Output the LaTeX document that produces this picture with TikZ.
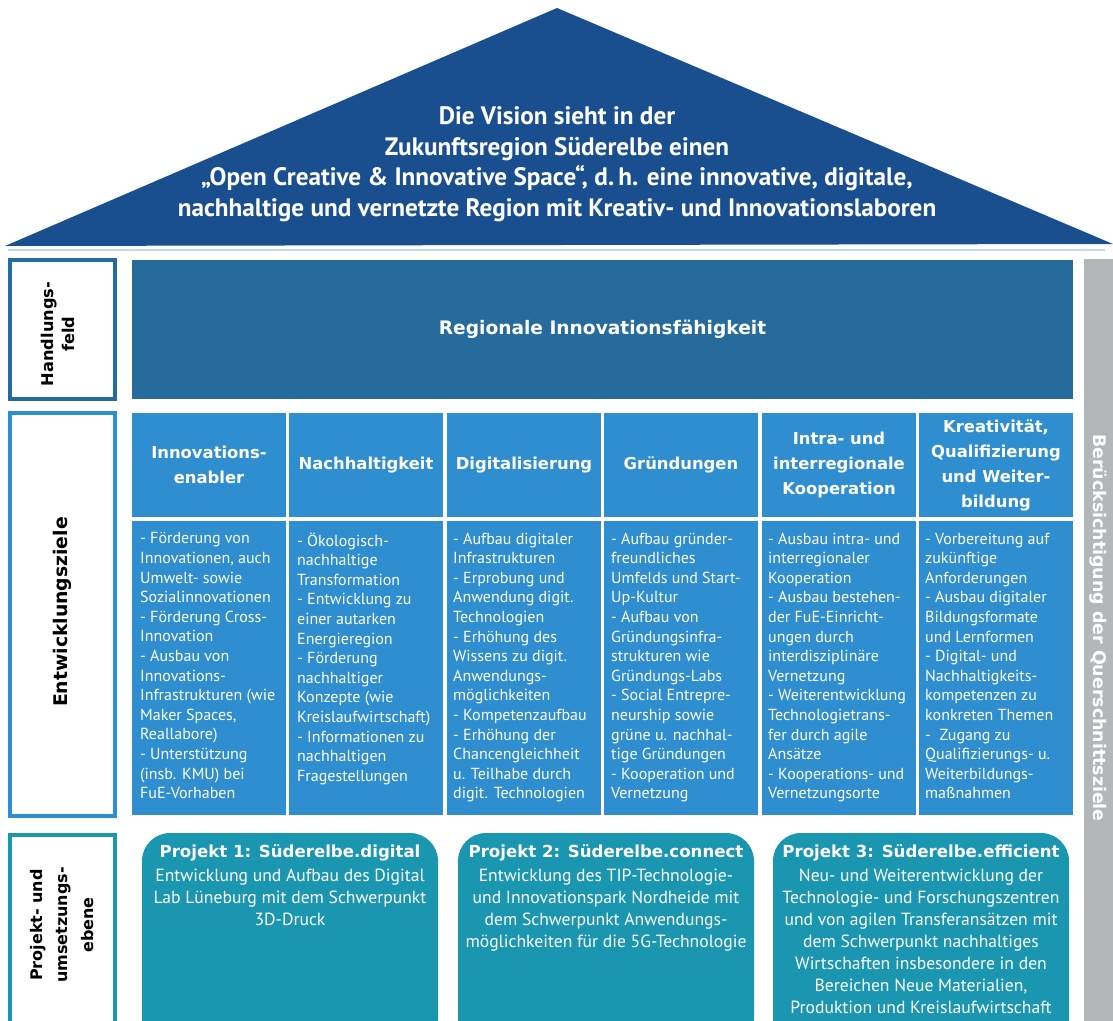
\documentclass[tikz,border=0pt]{standalone}
\usepackage{fontspec}
\setmainfont{PT Sans}
\newfontfamily\headface{DejaVu Sans}
\definecolor{roofblue}{RGB}{25,79,143}
\definecolor{fieldblue}{RGB}{37,108,157}
\definecolor{colblue}{RGB}{46,142,207}
\definecolor{teal}{RGB}{26,150,176}
\definecolor{barGray}{RGB}{180,183,185}
\definecolor{lineblue}{RGB}{190,220,240}
\tikzset{
  box/.style={anchor=north west, inner sep=0pt, outer sep=0pt},
  labelbox/.style={box, draw, line width=4pt, fill=white},
  labeltext/.style={rotate=90, align=center, font=\headface\bfseries\fontsize{16.2}{21}\selectfont, text=black},
  colhead/.style={box, fill=colblue, minimum width=154pt, minimum height=104pt, align=center,
    text=white, font=\headface\bfseries\fontsize{16.4}{25}\selectfont},
  colbody/.style={box, fill=colblue, minimum width=154pt, minimum height=294pt},
  bodytext/.style={anchor=north west, inner sep=0pt, align=left, text=white,
    font=\fontsize{16}{19.6}\selectfont},
  projbox/.style={box, fill=teal, rounded corners=28pt, minimum width=296pt, minimum height=215pt},
  projtitle/.style={inner sep=0pt, text=white, font=\headface\bfseries\fontsize{16.6}{22}\selectfont},
  projtext/.style={anchor=north, inner sep=0pt, align=center, text=white,
    font=\fontsize{17.6}{22}\selectfont},
}
\begin{document}
\begin{tikzpicture}[x=1pt,y=-1pt]
\useasboundingbox (0,0) rectangle (1113,1020);
\begin{scope}
\clip (0,0) rectangle (1113,1020);
% roof
\fill[roofblue] (5,246) -- (557,8) -- (1113,244) -- cycle;
\draw[lineblue, line width=1.5pt] (8,250) -- (1105,250);
\node[text=white, align=center, font=\bfseries\fontsize{25.2}{30.5}\selectfont] (vision) at (557,164)
  {Die Vision sieht in der\\Zukunftsregion Süderelbe einen\\„Open Creative \& Innovative Space“, d.\,h. eine innovative, digitale,\\nachhaltige und vernetzte Region mit Kreativ- und Innovationslaboren};

% left labels
\node[labelbox, draw=fieldblue, minimum width=105pt, minimum height=139pt] (lhf) at (10,260) {};
\node[labeltext] (lhft) at (58,334) {Handlungs-\\feld};
\node[labelbox, draw=colblue, minimum width=105pt, minimum height=403pt] (lez) at (10,413) {};
\node[labeltext, font=\headface\bfseries\fontsize{18.8}{22}\selectfont] (lezt) at (62,612) {Entwicklungsziele};
\node[labelbox, draw=teal, minimum width=105pt, minimum height=220pt] (lpu) at (10,835) {};
\node[labeltext, font=\headface\bfseries\fontsize{16}{25.5}\selectfont] (lput) at (62,925) {Projekt- und\\umsetzungs-\\ebene};

% Handlungsfeld
\node[box, fill=fieldblue, minimum width=941pt, minimum height=139pt, text=white,
  font=\headface\bfseries\fontsize{18.6}{25}\selectfont] (hf) at (132,260) {Regionale Innovationsfähigkeit};

% gray bar
\node[box, fill=barGray, minimum width=29pt, minimum height=770pt] (bar) at (1084,259) {};
\node[rotate=-90, text=white, font=\headface\bfseries\fontsize{17.4}{20}\selectfont] (bart) at (1098.5,628)
  {Berücksichtigung der Querschnittsziele};

% column headers
\node[colhead] (h1) at (132,413) {Innovations-\\enabler};
\node[colhead] (h2) at (289,413) {Nachhaltigkeit};
\node[colhead] (h3) at (447,413) {Digitalisierung};
\node[colhead] (h4) at (604,413) {Gründungen};
\node[colhead] (h5) at (762,413) {Intra- und\\interregionale\\Kooperation};
\node[colhead] (h6) at (919,413) {Kreativität,\\Qualifizierung\\und Weiter-\\bildung};

% column bodies
\node[colbody] (b1) at (132,521) {};
\node[colbody] (b2) at (289,521) {};
\node[colbody] (b3) at (447,521) {};
\node[colbody] (b4) at (604,521) {};
\node[colbody] (b5) at (762,521) {};
\node[colbody] (b6) at (919,521) {};

\node[bodytext] (t1) at ([shift={(8,11.5)}]b1.north west) {- Förderung von\\Innovationen, auch\\Umwelt- sowie\\Sozialinnovationen\\- Förderung Cross-\\Innovation\\- Ausbau von\\Innovations-\\Infrastrukturen (wie\\Maker Spaces,\\Reallabore)\\- Unterstützung\\(insb. KMU) bei\\FuE-Vorhaben};
\node[bodytext] (t2) at ([shift={(8,11.5)}]b2.north west) {- Ökologisch-\\nachhaltige\\Transformation\\- Entwicklung zu\\einer autarken\\Energieregion\\- Förderung\\nachhaltiger\\Konzepte (wie\\Kreislaufwirtschaft)\\- Informationen zu\\nachhaltigen\\Fragestellungen};
\node[bodytext] (t3) at ([shift={(6,11.5)}]b3.north west) {- Aufbau digitaler\\Infrastrukturen\\- Erprobung und\\Anwendung digit.\\Technologien\\- Erhöhung des\\Wissens zu digit.\\Anwendungs-\\möglichkeiten\\- Kompetenzaufbau\\- Erhöhung der\\Chancengleichheit\\u. Teilhabe durch\\digit. Technologien};
\node[bodytext] (t4) at ([shift={(7,11.5)}]b4.north west) {- Aufbau gründer-\\freundliches\\Umfelds und Start-\\Up-Kultur\\- Aufbau von\\Gründungsinfra-\\strukturen wie\\Gründungs-Labs\\- Social Entrepre-\\neurship sowie\\grüne u. nachhal-\\tige Gründungen\\- Kooperation und\\Vernetzung};
\node[bodytext] (t5) at ([shift={(6,11.5)}]b5.north west) {- Ausbau intra- und\\interregionaler\\Kooperation\\- Ausbau bestehen-\\der FuE-Einricht-\\ungen durch\\interdisziplinäre\\Vernetzung\\- Weiterentwicklung\\Technologietrans-\\fer durch agile\\Ansätze\\- Kooperations- und\\Vernetzungsorte};
\node[bodytext] (t6) at ([shift={(6,11.5)}]b6.north west) {- Vorbereitung auf\\zukünftige\\Anforderungen\\- Ausbau digitaler\\Bildungsformate\\und Lernformen\\- Digital- und\\Nachhaltigkeits-\\kompetenzen zu\\konkreten Themen\\-\ \ Zugang zu\\Qualifizierungs- u.\\Weiterbildungs-\\maßnahmen};

% projects
\node[projbox] (p1) at (142,833) {};
\node[projbox] (p2) at (458,833) {};
\node[projbox] (p3) at (773,833) {};
\node[projtitle] (p1t) at ([yshift=-20pt]p1.north) {Projekt 1: Süderelbe.digital};
\node[projtitle] (p2t) at ([yshift=-20pt]p2.north) {Projekt 2: Süderelbe.connect};
\node[projtitle] (p3t) at ([yshift=-20pt]p3.north) {Projekt 3: Süderelbe.efficient};
\node[projtext] (p1b) at ([yshift=-36pt]p1.north) {Entwicklung und Aufbau des Digital\\Lab Lüneburg mit dem Schwerpunkt\\3D-Druck};
\node[projtext] (p2b) at ([yshift=-36pt]p2.north) {Entwicklung des TIP-Technologie-\\und Innovationspark Nordheide mit\\dem Schwerpunkt Anwendungs-\\möglichkeiten für die 5G-Technologie};
\node[projtext] (p3b) at ([yshift=-36pt]p3.north) {Neu- und Weiterentwicklung der\\Technologie- und Forschungszentren\\und von agilen Transferansätzen mit\\dem Schwerpunkt nachhaltiges\\Wirtschaften insbesondere in den\\Bereichen Neue Materialien,\\Produktion und Kreislaufwirtschaft};
\end{scope}
\end{tikzpicture}
\end{document}
